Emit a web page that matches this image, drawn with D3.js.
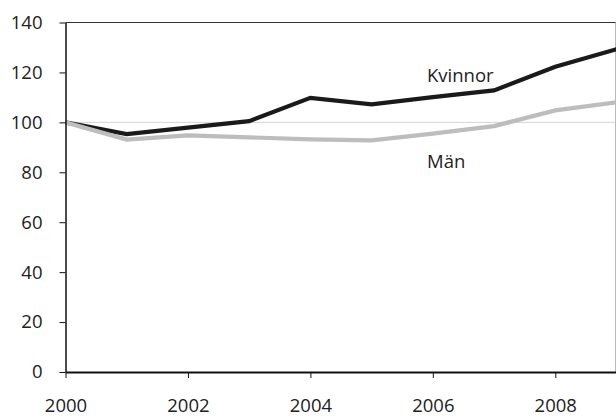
<!DOCTYPE html>
<html>
<head>
<meta charset="utf-8">
<script src="https://cdn.jsdelivr.net/npm/d3@7"></script>
<style>
  html, body { margin: 0; padding: 0; background: #fff; }
  svg { display: block; }
  text { font-family: "Open Sans", "Liberation Sans", Arial, sans-serif; fill: #222; }
</style>
</head>
<body>
<script>
const years = [2000, 2001, 2002, 2003, 2004, 2005, 2006, 2007, 2008, 2009];
const kvinnor = [100, 95.3, 97.9, 100.5, 109.8, 107.2, 110.1, 112.8, 122.3, 129.3];
const man = [100, 93.1, 94.8, 94.0, 93.2, 92.8, 95.5, 98.5, 104.8, 108.0];
const yTicks = [0, 20, 40, 60, 80, 100, 120, 140];
const xTicks = [2000, 2002, 2004, 2006, 2008];

const W = 616, H = 417;
const m = { left: 65.5, right: 0, top: 22.5, bottom: 45 };
const FONT = "'Open Sans', 'Liberation Sans', Arial, sans-serif";

const svg = d3.select("body").append("svg").attr("width", W).attr("height", H);

const x = d3.scaleLinear().domain([2000, 2009]).range([m.left, 616.5]);
const y = d3.scaleLinear().domain([0, 140]).range([372, m.top]);

// reference line at 100
svg.append("line")
  .attr("x1", x(2000)).attr("x2", x(2009))
  .attr("y1", y(100)).attr("y2", y(100))
  .attr("stroke", "#d4d4d4").attr("stroke-width", 1);

// top border
svg.append("line")
  .attr("x1", x(2000)).attr("x2", W)
  .attr("y1", y(140)).attr("y2", y(140))
  .attr("stroke", "#333").attr("stroke-width", 1);
// right border
svg.append("line")
  .attr("x1", 615.5).attr("x2", 615.5)
  .attr("y1", y(140)).attr("y2", y(0))
  .attr("stroke", "#bbb").attr("stroke-width", 1);

const line = d3.line().x((d, i) => x(years[i])).y(d => y(d));

svg.append("path").datum(kvinnor)
  .attr("d", line).attr("fill", "none")
  .attr("stroke", "#1a1a1a").attr("stroke-width", 4.2)
  .attr("stroke-linejoin", "miter");

svg.append("path").datum(man)
  .attr("d", line).attr("fill", "none")
  .attr("stroke", "#bdbdbd").attr("stroke-width", 4.2)
  .attr("stroke-linejoin", "miter");

// y axis
const yAxis = svg.append("g").attr("transform", `translate(${m.left},0)`)
  .call(d3.axisLeft(y).tickValues(yTicks).tickSize(6).tickPadding(17).tickSizeOuter(0));
yAxis.select(".domain").attr("stroke", "#111").attr("stroke-width", 1.5);
yAxis.selectAll(".tick line").attr("stroke", "#111");
yAxis.selectAll("text").style("font-size", "18.5px").attr("fill", "#222")
  .style("font-family", FONT);

// x axis
const xAxis = svg.append("g").attr("transform", `translate(0,${y(0)})`)
  .call(d3.axisBottom(x).tickValues(xTicks).tickFormat(d3.format("d")).tickSize(6).tickPadding(21).tickSizeOuter(0));
xAxis.select(".domain").attr("stroke", "#111").attr("stroke-width", 2);
xAxis.selectAll(".tick line").attr("stroke", "#111");
xAxis.selectAll("text").style("font-size", "18.5px").attr("fill", "#222")
  .style("font-family", FONT);

// series labels
svg.append("text").attr("x", 427).attr("y", 82).text("Kvinnor")
  .style("font-size", "18.5px").style("font-family", FONT);
svg.append("text").attr("x", 427).attr("y", 168).text("Män")
  .style("font-size", "18.5px").style("font-family", FONT);
</script>
</body>
</html>
